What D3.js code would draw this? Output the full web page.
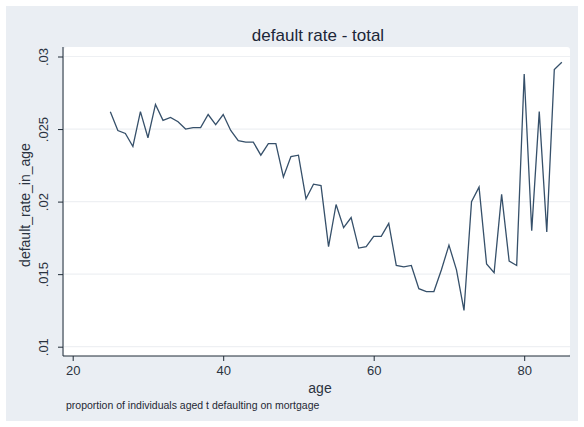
<!DOCTYPE html>
<html>
<head>
<meta charset="utf-8">
<script src="https://cdn.jsdelivr.net/npm/d3@7"></script>
<style>
  body { margin: 0; background: #ffffff; }
  svg { display: block; font-family: "Liberation Sans", Arial, sans-serif; }
</style>
</head>
<body>
<div id="chart"></div>
<script>
// data
var ages = [25, 26, 27, 28, 29, 30, 31, 32, 33, 34, 35, 36, 37, 38, 39, 40,
            41, 42, 43, 44, 45, 46, 47, 48, 49, 50, 51, 52, 53, 54, 55,
            56, 57, 58, 59, 60, 61, 62, 63, 64, 65, 66, 67, 68, 69, 70,
            71, 72, 73, 74, 75, 76, 77, 78, 79, 80, 81, 82, 83, 84, 85];
var rates = [.0262, .0249, .0247, .0238, .0262, .0244, .0267, .0256, .0258, .0255, .0250, .0251, .0251, .0260, .0253, .0260,
             .0249, .0242, .0241, .0241, .0232, .0240, .0240, .0217, .0231, .0232, .0202, .0212, .0211, .0169, .0198,
             .0182, .0189, .0168, .0169, .0176, .0176, .0185, .0156, .0155, .0156, .0140, .0138, .0138, .0153, .0170,
             .0153, .0125, .0200, .0210, .0157, .0151, .0205, .0159, .0156, .0288, .0180, .0262, .0179, .0291, .0296];
var xTicks = [20, 40, 60, 80];
var yTicks = [.01, .015, .02, .025, .03];
var yTickLabels = [".01", ".015", ".02", ".025", ".03"];

var width = 584, height = 427;
var plot = {left: 64, right: 570, top: 47, bottom: 356};

var svg = d3.select("#chart").append("svg")
  .attr("width", width)
  .attr("height", height);

// outer graph region
svg.append("rect")
  .attr("x", 6).attr("y", 6)
  .attr("width", width - 12).attr("height", height - 12)
  .attr("fill", "#eaeef3");

// plot region
svg.append("rect")
  .attr("x", plot.left).attr("y", plot.top)
  .attr("width", plot.right - plot.left).attr("height", plot.bottom - plot.top)
  .attr("rx", 3)
  .attr("fill", "#ffffff");

var x = d3.scaleLinear().domain([20, 80]).range([72.7, 524.2]);
var y = d3.scaleLinear().domain([.01, .03]).range([346.7, 56.5]);

// gridlines
svg.append("g")
  .selectAll("line")
  .data(yTicks)
  .enter().append("line")
    .attr("x1", plot.left).attr("x2", plot.right)
    .attr("y1", function(d) { return y(d); })
    .attr("y2", function(d) { return y(d); })
    .attr("stroke", "#eef0f3")
    .attr("stroke-width", 1.2);

// the line
var line = d3.line()
  .x(function(d, i) { return x(ages[i]); })
  .y(function(d) { return y(d); });

svg.append("path")
  .datum(rates)
  .attr("d", line)
  .attr("fill", "none")
  .attr("stroke", "#36506a")
  .attr("stroke-width", 1.3);

// x axis
var xAxis = svg.append("g")
  .attr("transform", "translate(0," + plot.bottom + ")")
  .call(d3.axisBottom(x).tickValues(xTicks).tickSize(5).tickPadding(5).tickFormat(d3.format("d")));
xAxis.select(".domain").attr("d", "M" + (plot.left - 1) + ",0H" + plot.right);

// y axis
var yAxis = svg.append("g")
  .attr("transform", "translate(" + (plot.left - 1) + ",0)")
  .call(d3.axisLeft(y).tickValues(yTicks).tickSize(5).tickPadding(0)
        .tickFormat(function(d, i) { return yTickLabels[i]; }));
yAxis.select(".domain").attr("d", "M0," + plot.top + "V" + plot.bottom);
yAxis.selectAll(".tick text")
  .attr("transform", "rotate(-90)")
  .attr("x", 0).attr("y", -20)
  .attr("dy", "0.35em")
  .style("text-anchor", "middle");

svg.selectAll(".domain, .tick line").attr("stroke", "#1f2a36");
svg.selectAll(".tick text")
  .attr("fill", "#2a3340")
  .style("font-size", "13px")
  .style("font-family", "'Liberation Sans', Arial, sans-serif");

// titles
svg.append("text")
  .attr("x", 318).attr("y", 41)
  .attr("text-anchor", "middle")
  .attr("fill", "#1c2638")
  .style("font-size", "17px")
  .text("default rate - total");

svg.append("text")
  .attr("x", 320).attr("y", 393)
  .attr("text-anchor", "middle")
  .attr("fill", "#2a3340")
  .style("font-size", "14px")
  .text("age");

svg.append("text")
  .attr("transform", "translate(30,205) rotate(-90)")
  .attr("text-anchor", "middle")
  .attr("fill", "#2a3340")
  .style("font-size", "14px")
  .text("default_rate_in_age");

svg.append("text")
  .attr("x", 66).attr("y", 409)
  .attr("fill", "#1f2833")
  .style("font-size", "10.5px")
  .text("proportion of individuals aged t defaulting on mortgage");
</script>
</body>
</html>
